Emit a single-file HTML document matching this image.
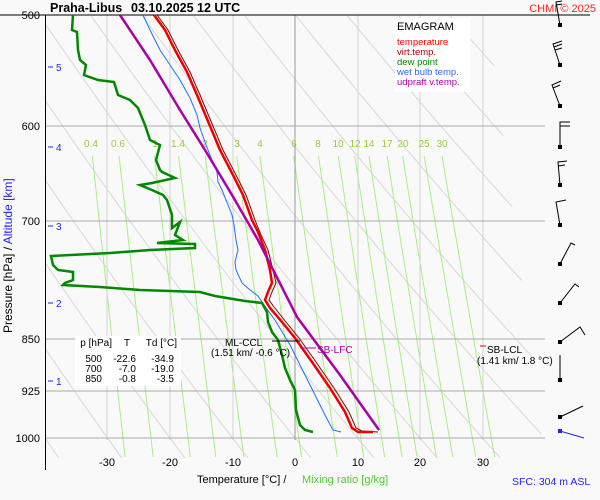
<!DOCTYPE html>
<html><head><meta charset="utf-8"><style>
html,body{margin:0;padding:0;background:#f9f9f9;}
svg{display:block;font-family:"Liberation Sans",sans-serif;}
</style></head><body>
<svg id="s" width="600" height="500" xmlns="http://www.w3.org/2000/svg">
<defs><clipPath id="cp"><polygon points="46,16 488,16 542,440 542,458 46,458"/></clipPath></defs>
<g id="adi" clip-path="url(#cp)" stroke="#d8d8d8" stroke-width="1" fill="none"></g>
<g id="mix" stroke="#a8f080" stroke-width="1" fill="none"></g>
<g stroke="#d4d4d4" stroke-width="1">
<line x1="107" y1="15" x2="107" y2="440"/><line x1="170" y1="15" x2="170" y2="440"/><line x1="233" y1="15" x2="233" y2="440"/>
<line x1="358" y1="15" x2="358" y2="440"/><line x1="420" y1="15" x2="420" y2="440"/><line x1="483" y1="15" x2="483" y2="440"/>
</g>
<line x1="295" y1="15" x2="295" y2="440" stroke="#999"/>
<g stroke="#aaa" stroke-width="1">
<line x1="45" y1="126" x2="545" y2="126"/><line x1="45" y1="221" x2="545" y2="221"/><line x1="45" y1="339" x2="545" y2="339"/><line x1="45" y1="391" x2="545" y2="391"/><line x1="45" y1="438" x2="545" y2="438"/>
</g>
<line x1="0" y1="15" x2="590" y2="15" stroke="#000"/>
<line x1="45.5" y1="15" x2="45.5" y2="470" stroke="#000"/>
<g fill="#9acd32" font-size="10" text-anchor="middle">
<text x="91" y="147">0.4</text><text x="118" y="147">0.6</text><text x="155" y="147">1</text><text x="178" y="147">1.4</text><text x="205" y="147">2</text><text x="237" y="147">3</text><text x="260" y="147">4</text><text x="294" y="147">6</text><text x="318" y="147">8</text><text x="338" y="147">10</text><text x="355" y="147">12</text><text x="369" y="147">14</text><text x="387" y="147">17</text><text x="403" y="147">20</text><text x="424" y="147">25</text><text x="442" y="147">30</text>
</g>
<polyline fill="none" stroke="#1e6fff" stroke-width="1" points="143,15 150,30 160,50 170,65 180,80 190,98 197,115 200,128 206,145 212,160 217,172 218,182 222,190 228,205 232,215 234,225 236,240 238,250 235,262 236,270 242,283 250,290 258,296 264,305 275,320 290,345 300,365 315,395 325,415 333,430 341,432"/>
<polyline fill="none" stroke="#8b0000" stroke-width="1" points="157,15 168,30 178,50 190,72 200,95 213,126 223,150 236,175 246,195 255,220 261,235 268,250 273,270 276,283 272,292 269,300 274,307 286,322 299,338 316,362 334,388 349,412 356,428 362,431 378,432"/>
<polyline fill="none" stroke="#e00" stroke-width="2.5" points="154,15 165,30 175,50 187,72 197,95 210,126 220,150 233,175 243,195 252,220 258,232 265,250 270,270 272,283 268,292 265,300 270,308 282,322 295,338 312,362 330,388 345,412 352,428 358,432 373,432"/>
<polyline fill="none" stroke="#a0a" stroke-width="2.5" points="120,15 150,60 180,110 205,150 232,195 258,240 297,317 340,375 379,430"/>
<polyline fill="none" stroke="#080" stroke-width="2.5" points="73,15 72,30 77,32 78,50 80,60 86,65 84,75 98,80 114,82 118,95 130,100 138,108 145,125 150,140 160,145 156,160 160,170 162,172 175,178 152,183 140,185 152,190 163,195 167,200 172,215 172,228 180,222 175,235 183,240 157,243 195,244 195,248 150,250 110,253 51,256 53,265 58,270 73,272 73,280 65,283 63,285 100,287 140,290 200,292 215,296 245,301 262,303 267,312 268,322 272,332 278,340 282,355 285,368 290,380 295,390 296,410 300,425 305,430 313,432"/>
<line x1="272" y1="341" x2="300" y2="341" stroke="#000"/>
<line x1="300" y1="348" x2="316" y2="348" stroke="#a0a"/>
<line x1="480" y1="346" x2="486" y2="346" stroke="#e00"/>
<g font-size="10">
<text x="225" y="346">ML-CCL</text><text x="211" y="356">(1.51 km/ -0.6 °C)</text>
<text x="317" y="353" fill="#a0a">SB-LFC</text>
<text x="487" y="353">SB-LCL</text><text x="477" y="364">(1.41 km/ 1.8 °C)</text>
</g>
<rect x="75" y="336" width="106" height="50" fill="#fff"/>
<g font-size="10" text-anchor="end">
<text x="112" y="346">p [hPa]</text><text x="130" y="346">T</text><text x="177" y="346">Td [°C]</text>
<text x="102" y="362">500</text><text x="136" y="362">-22.6</text><text x="174" y="362">-34.9</text>
<text x="102" y="372">700</text><text x="136" y="372">-7.0</text><text x="174" y="372">-19.0</text>
<text x="102" y="382">850</text><text x="136" y="382">-0.8</text><text x="174" y="382">-3.5</text>
</g>
<rect x="395" y="18" width="75" height="74" fill="#fff"/>
<text x="397" y="30" font-size="11">EMAGRAM</text>
<g font-size="9.5"><text x="397" y="45" fill="#f00">temperature</text><text x="397" y="55" fill="#a00">virt.temp.</text><text x="397" y="65" fill="#080">dew point</text><text x="397" y="75" fill="#36f">wet bulb temp.</text><text x="397" y="85" fill="#a0a">udpraft v.temp.</text></g>
<text x="50" y="12" font-size="12.5" font-weight="bold">Praha-Libus</text>
<text x="131" y="12" font-size="12.5" font-weight="bold">03.10.2025 12 UTC</text>
<text x="596" y="12" font-size="11" fill="#f22" text-anchor="end">CHMI © 2025</text>
<g font-size="11" text-anchor="end"><text x="40" y="19">500</text><text x="40" y="130">600</text><text x="40" y="225">700</text><text x="40" y="343">850</text><text x="40" y="395">925</text><text x="40" y="442">1000</text></g>
<g stroke="#22f"><line x1="48" y1="67" x2="53" y2="67"/><line x1="48" y1="147" x2="53" y2="147"/><line x1="48" y1="226" x2="53" y2="226"/><line x1="48" y1="303" x2="53" y2="303"/><line x1="48" y1="381" x2="53" y2="381"/></g>
<g fill="#22f" font-size="10"><text x="56" y="71">5</text><text x="56" y="151">4</text><text x="56" y="230">3</text><text x="56" y="307">2</text><text x="56" y="385">1</text></g>
<text transform="translate(12,333) rotate(-90)" font-size="12">Pressure [hPa]  /  <tspan fill="#22f">Altitude [km]</tspan></text>
<g font-size="11" text-anchor="middle"><text x="107" y="466">-30</text><text x="170" y="466">-20</text><text x="233" y="466">-10</text><text x="295" y="466">0</text><text x="358" y="466">10</text><text x="420" y="466">20</text><text x="483" y="466">30</text></g>
<text x="197" y="483" font-size="11">Temperature [°C]  /</text>
<text x="302" y="483" font-size="11" fill="#5c3">Mixing ratio [g/kg]</text>
<text x="512" y="485" font-size="10.5" fill="#22f">SFC: 304 m ASL</text>
<g stroke="#000" stroke-width="1" fill="none">
<path d="M560,25 L556,2 L562,1 M556,5 L562,4"/><path d="M560,65 L553,44 L562,41 M554,47 L562,44 M555,50 L562,48"/>
<path d="M560,106 L552,85 L561,81 M553,88 L560,85"/><path d="M560,147 L560,122 L570,122 M560,126 L570,126"/>
<path d="M560,185 L558,162 L567,161 M558,166 L565,165"/><path d="M560,225 L556,202 L566,200"/>
<path d="M560,264 L571,243 L575,245"/><path d="M560,303 L575,284 L579,287"/><path d="M560,342 L580,327 L585,335"/>
<path d="M560,380 L560,355"/><path d="M560,417 L583,406"/>
</g>
<g fill="#000"><rect x="558" y="23" width="4" height="4"/><rect x="558" y="63" width="4" height="4"/><rect x="558" y="104" width="4" height="4"/><rect x="558" y="145" width="4" height="4"/><rect x="558" y="183" width="4" height="4"/><rect x="558" y="223" width="4" height="4"/><rect x="558" y="262" width="4" height="4"/><rect x="558" y="301" width="4" height="4"/><rect x="558" y="340" width="4" height="4"/><rect x="558" y="378" width="4" height="4"/><rect x="558" y="415" width="4" height="4"/></g>
<path d="M560,431 L584,438" stroke="#22f"/><rect x="558" y="429" width="4" height="4" fill="#22f"/>
</svg>
<script>
(function(){
var NS="http://www.w3.org/2000/svg";
function Y(p){return 15+610.3*Math.log(p/500);}
function X(t){return 295+6.25*t;}
var adi=document.getElementById("adi"),mix=document.getElementById("mix");
for(var k=-8;k<=12;k++){var th=273.15+10*k;var d="";for(var p=480;p<=1050;p+=10){var t=th*Math.pow(p/1000,0.286)-273.15;d+=(d?"L":"M")+X(t).toFixed(1)+","+Y(p).toFixed(1);}
var e=document.createElementNS(NS,"path");e.setAttribute("d",d);adi.appendChild(e);}
var ws=[0.4,0.6,1,1.4,2,3,4,6,8,10,12,14,17,20,25,30];
ws.forEach(function(w){var d="";var p0=500*Math.exp((156-15)/610.3),p1=500*Math.exp((457-15)/610.3);
for(var i=0;i<=20;i++){var p=p0+(p1-p0)*i/20;var e=w*p/(622+w);var l=Math.log(e/6.112);var t=243.5*l/(17.67-l);d+=(d?"L":"M")+X(t).toFixed(1)+","+Y(p).toFixed(1);}
var el=document.createElementNS(NS,"path");el.setAttribute("d",d);mix.appendChild(el);});
})();
</script>
</body></html>
